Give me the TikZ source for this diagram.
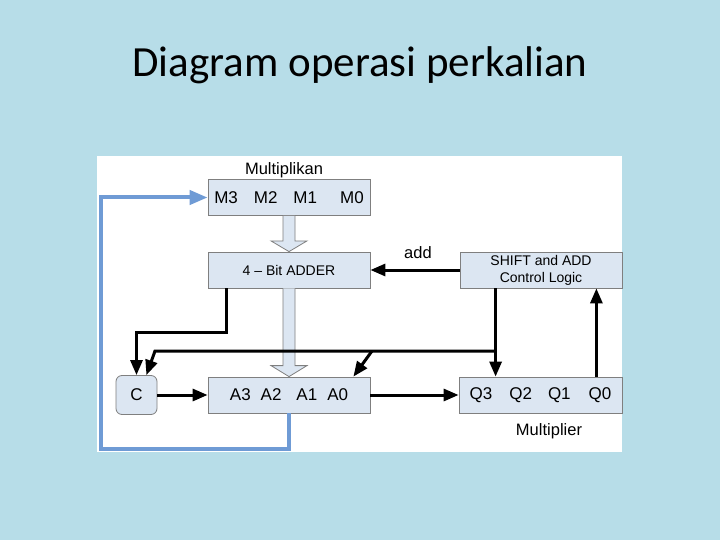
\documentclass[tikz,border=0pt]{standalone}
\usepackage{fontspec}
\setmainfont{Liberation Sans}
\newfontfamily\titlefont{Carlito}
\usetikzlibrary{arrows.meta,calc}
\definecolor{bg}{HTML}{B7DDE8}
\definecolor{boxfill}{HTML}{DCE6F2}
\definecolor{boxline}{HTML}{7F7F7F}
\definecolor{bluel}{HTML}{6F9BD5}
\begin{document}
\begin{tikzpicture}[x=1pt,y=-1pt,
  blk/.style={draw=boxline, fill=boxfill, line width=0.8pt, minimum width=162pt, minimum height=36pt, inner sep=0pt, font=\fontsize{17}{20}\selectfont},
  small/.style={font=\fontsize{14}{18}\selectfont},
  lbl/.style={inner sep=0pt, font=\fontsize{16.5}{20}\selectfont},
  wire/.style={line width=3pt, -{Triangle[length=15pt,width=12pt]}},
  bluewire/.style={draw=bluel, line width=4pt, -{Triangle[length=18pt,width=14pt]}},
  hollow/.style={draw=boxline, fill=boxfill, line width=0.8pt, line join=miter}
]
\fill[bg] (0,0) rectangle (720,540);
\useasboundingbox (0,0) rectangle (720,540);
\fill[white] (97,156) rectangle (622,452);

\node[anchor=base] (title) at (360,77) {\titlefont\fontsize{43}{50}\selectfont Diagram operasi perkalian};

% boxes
\node[blk] (M) at (289,197.5) {M3\hspace{16pt}M2\hspace{16pt}M1\hspace{23pt}M0};
\node[blk, small] (adder) at (289,270) {4 -- Bit ADDER};
\node[blk, small, align=center] (ctrl) at (541,270) {SHIFT and ADD\\[-1pt]Control Logic};
\node[blk, minimum width=41pt, minimum height=39pt, rounded corners=6pt] (C) at (136.5,395) {C};
\node[blk] (A) at (289,395) {A3\hspace{10pt}A2\hspace{15pt}A1\hspace{10pt}A0};
\node[blk, minimum width=163pt] (Q) at (540.5,395) {Q3\hspace{17pt}Q2\hspace{16pt}Q1\hspace{18pt}Q0};

% labels
\node[lbl] (lm) at (284,170) {Multiplikan};
\node[lbl] (lq) at (549,431) {Multiplier};
\node[lbl] (ladd) at (418,253) {add};

% hollow arrows
\draw[hollow] ($(M.south)+(-6,0)$) -- ($(M.south)+(-6,25)$) -- ($(M.south)+(-18,25)$)
  -- (adder.north) -- ($(M.south)+(18,25)$) -- ($(M.south)+(6,25)$) -- ($(M.south)+(6,0)$);
\draw[hollow] ($(adder.south)+(-6,0)$) -- ($(A.north)+(-6,-11)$) -- ($(A.north)+(-18,-11)$)
  -- (A.north) -- ($(A.north)+(18,-11)$) -- ($(A.north)+(6,-11)$) -- ($(adder.south)+(6,0)$);

% blue feedback
\coordinate (b2) at (101,449);
\coordinate (b3) at (101,197.5);
\draw[bluewire] (A.south) |- (b2) -- (b3) -- (M.west);

% black wires
\draw[wire] (ctrl.west) -- (adder.east);
\coordinate (k1) at (136.5,332);
\draw[wire] ($(adder.south west)+(19,0)$) |- (k1) -- (C.north);
\draw[wire] ($(ctrl.south west)+(36,0)$) -- ($(Q.north west)+(37,0)$);
\coordinate (j1) at (496,351);
\coordinate (j2) at (155,351);
\coordinate (j3) at (372,351);
\draw[wire] (j1) -- (j2) -- ($(C.north east)+(-11,0)$);
\draw[wire] (j3) -- ($(A.north east)+(-17,0)$);
\draw[wire] ($(Q.north east)+(-26,0)$) -- ($(ctrl.south east)+(-26,0)$);
\draw[wire] (C.east) -- (A.west);
\draw[wire] (A.east) -- (Q.west);
\end{tikzpicture}
\end{document}
